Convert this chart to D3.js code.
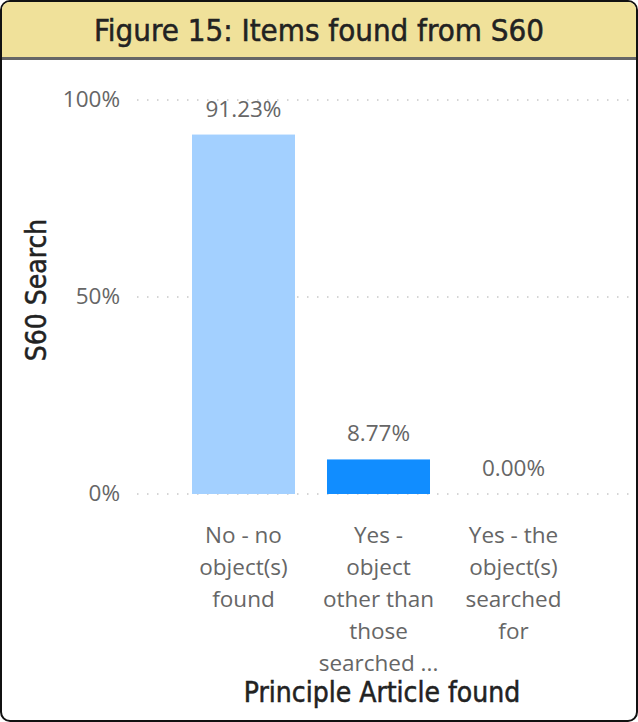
<!DOCTYPE html>
<html>
<head>
<style>
  body { margin: 0; padding: 0; background: #fff; }
  #card {
    position: absolute; left: 0; top: 0; width: 634px; height: 718px;
    border: 2px solid #111; border-radius: 10px; overflow: hidden; background: #fff;
  }
  #title {
    height: 55px; background: #F0E19A; border-bottom: 3px solid #666;
    text-align: center; font-family: "DejaVu Sans Condensed", "DejaVu Sans", sans-serif;
    font-size: 31px; line-height: 57px; color: #222;
    -webkit-text-stroke: 0.5px #222;
  }
</style>
<script src="https://d3js.org/d3.v7.min.js"></script>
</head>
<body>
<div id="card">
  <div id="title">Figure 15: Items found from S60</div>
  <div id="chart"></div>
</div>
<script>
var categories = [
  ["No - no", "object(s)", "found"],
  ["Yes -", "object", "other than", "those", "searched ..."],
  ["Yes - the", "object(s)", "searched", "for"]
];
var values = [91.23, 8.77, 0.00];
var colors = ["#A3D0FF", "#118DFF", "#118DFF"];
var yTicks = [0, 50, 100];

var W = 634, H = 660;   // below title band; top of svg is page y=60
var offY = 60;
var svg = d3.select("#chart").append("svg").attr("width", W).attr("height", H)
  .style("display", "block");

var x = d3.scaleBand().domain(d3.range(categories.length))
  .range([158, 595]).paddingInner(0.237).paddingOuter(0.237);
var y = d3.scaleLinear().domain([0, 100]).range([494 - offY, 100 - offY]);

var font = "'Open Sans', 'Noto Sans', sans-serif";
var fs = 22.5;

// gridlines
svg.append("g").selectAll("line").data(yTicks).enter().append("line")
  .attr("x1", 135).attr("x2", 630)
  .attr("y1", function(d) { return y(d); }).attr("y2", function(d) { return y(d); })
  .attr("stroke", "#C8C8C8").attr("stroke-width", 1.5).attr("stroke-dasharray", "1.5,8.5");

// y labels
svg.append("g").selectAll("text").data(yTicks).enter().append("text")
  .attr("x", 118).attr("y", function(d) { return y(d); }).attr("dy", "0.3em")
  .attr("text-anchor", "end").attr("font-family", font).attr("font-size", fs)
  .attr("fill", "#666").text(function(d) { return d + "%"; });

// bars
svg.append("g").selectAll("rect").data(values).enter().append("rect")
  .attr("x", function(d, i) { return x(i); })
  .attr("y", function(d) { return y(d); })
  .attr("width", x.bandwidth())
  .attr("height", function(d) { return y(0) - y(d); })
  .attr("fill", function(d, i) { return colors[i]; });

// data labels
svg.append("g").selectAll("text").data(values).enter().append("text")
  .attr("x", function(d, i) { return x(i) + x.bandwidth() / 2; })
  .attr("y", function(d) { return y(d) - 18; })
  .attr("text-anchor", "middle").attr("font-family", font).attr("font-size", fs)
  .attr("fill", "#666").text(function(d) { return d.toFixed(2) + "%"; });

// category labels
var cat = svg.append("g").selectAll("text").data(categories).enter().append("text")
  .attr("text-anchor", "middle").attr("font-family", font).attr("font-size", fs)
  .attr("fill", "#666");
cat.each(function(lines, i) {
  var t = d3.select(this);
  lines.forEach(function(l, j) {
    t.append("tspan").attr("x", x(i) + x.bandwidth() / 2)
      .attr("y", 543 - offY + j * 32).text(l);
  });
});

// axis titles
var tfont = "'DejaVu Sans Condensed', 'DejaVu Sans', sans-serif";
svg.append("text").attr("x", 380).attr("y", 702 - offY)
  .attr("text-anchor", "middle").attr("font-family", tfont)
  .attr("font-size", 28).attr("fill", "#222").attr("stroke", "#222").attr("stroke-width", 0.5)
  .text("Principle Article found");

svg.append("text").attr("transform", "translate(44," + (290 - offY) + ") rotate(-90)")
  .attr("text-anchor", "middle").attr("font-family", tfont)
  .attr("font-size", 28).attr("fill", "#222").attr("stroke", "#222").attr("stroke-width", 0.5)
  .text("S60 Search");
</script>
</body>
</html>
